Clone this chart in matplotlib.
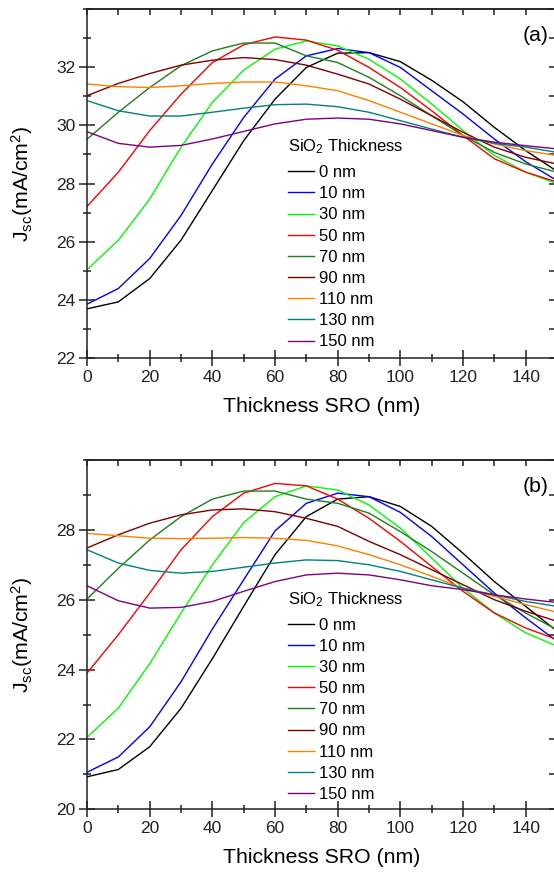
import matplotlib
matplotlib.use("Agg")
import matplotlib.pyplot as plt
from matplotlib.ticker import MultipleLocator

plt.rcParams['font.family'] = ['Liberation Sans', 'DejaVu Sans']
plt.rcParams['mathtext.fontset'] = 'custom'
plt.rcParams['mathtext.rm'] = 'Liberation Sans'
plt.rcParams['mathtext.it'] = 'Liberation Sans:italic'

# ---------------- data ----------------
x_sro = [0, 10, 20, 30, 40, 50, 60, 70, 80, 90, 100, 110, 120, 130, 140, 150]
series_labels = ['0 nm', '10 nm', '30 nm', '50 nm', '70 nm', '90 nm', '110 nm', '130 nm', '150 nm']
series_colors = ['#000000', '#0000ff', '#00ff00', '#ff0000', '#1e7f1e',
                 '#7f0000', '#ff8000', '#008080', '#800080']

# panel (a)
ja_0   = [23.69, 23.93, 24.73, 26.05, 27.76, 29.47, 30.90, 31.99, 32.48, 32.50, 32.19, 31.55, 30.81, 29.93, 29.13, 28.42]
ja_10  = [23.85, 24.39, 25.42, 26.90, 28.67, 30.27, 31.59, 32.39, 32.64, 32.50, 31.99, 31.19, 30.39, 29.53, 28.75, 28.10]
ja_30  = [25.04, 26.05, 27.47, 29.25, 30.79, 31.90, 32.62, 32.90, 32.73, 32.27, 31.59, 30.73, 29.82, 28.96, 28.39, 27.99]
ja_50  = [27.21, 28.39, 29.82, 31.07, 32.16, 32.77, 33.04, 32.93, 32.58, 31.99, 31.30, 30.50, 29.65, 28.85, 28.39, 28.05]
ja_70  = [29.52, 30.45, 31.30, 32.05, 32.56, 32.83, 32.83, 32.39, 32.16, 31.65, 31.02, 30.33, 29.65, 29.07, 28.67, 28.39]
ja_90  = [31.02, 31.44, 31.78, 32.07, 32.24, 32.33, 32.26, 32.07, 31.76, 31.42, 30.90, 30.33, 29.76, 29.25, 28.90, 28.67]
ja_110 = [31.42, 31.33, 31.30, 31.36, 31.44, 31.49, 31.49, 31.36, 31.19, 30.85, 30.45, 30.05, 29.65, 29.36, 29.13, 28.96]
ja_130 = [30.85, 30.50, 30.32, 30.32, 30.45, 30.59, 30.71, 30.73, 30.64, 30.45, 30.16, 29.87, 29.59, 29.38, 29.25, 29.07]
ja_150 = [29.78, 29.38, 29.25, 29.31, 29.53, 29.79, 30.05, 30.21, 30.25, 30.21, 30.05, 29.82, 29.59, 29.42, 29.30, 29.19]

# panel (b)
jb_0   = [20.93, 21.14, 21.79, 22.89, 24.31, 25.81, 27.29, 28.38, 28.88, 28.95, 28.67, 28.10, 27.33, 26.52, 25.81, 25.10]
jb_10  = [21.06, 21.50, 22.36, 23.65, 25.16, 26.57, 27.97, 28.76, 29.05, 28.95, 28.50, 27.81, 27.00, 26.19, 25.48, 24.81]
jb_30  = [22.06, 22.90, 24.17, 25.62, 27.00, 28.21, 28.95, 29.26, 29.14, 28.71, 28.05, 27.19, 26.33, 25.62, 25.05, 24.67]
jb_50  = [23.90, 25.00, 26.19, 27.43, 28.38, 29.05, 29.33, 29.26, 28.88, 28.33, 27.67, 26.95, 26.24, 25.62, 25.19, 24.86]
jb_70  = [26.02, 26.90, 27.71, 28.38, 28.88, 29.11, 29.11, 28.88, 28.76, 28.48, 27.95, 27.38, 26.76, 26.14, 25.62, 25.14]
jb_90  = [27.48, 27.86, 28.19, 28.43, 28.57, 28.60, 28.52, 28.33, 28.10, 27.67, 27.29, 26.86, 26.43, 26.00, 25.67, 25.38]
jb_110 = [27.90, 27.83, 27.76, 27.75, 27.76, 27.78, 27.76, 27.70, 27.54, 27.29, 27.00, 26.67, 26.33, 26.10, 25.86, 25.64]
jb_130 = [27.43, 27.05, 26.84, 26.76, 26.81, 26.93, 27.05, 27.14, 27.12, 27.00, 26.81, 26.57, 26.33, 26.14, 25.95, 25.81]
jb_150 = [26.40, 25.97, 25.76, 25.78, 25.95, 26.24, 26.52, 26.71, 26.76, 26.71, 26.57, 26.40, 26.29, 26.14, 26.02, 25.92]

panel_a = [ja_0, ja_10, ja_30, ja_50, ja_70, ja_90, ja_110, ja_130, ja_150]
panel_b = [jb_0, jb_10, jb_30, jb_50, jb_70, jb_90, jb_110, jb_130, jb_150]

xticks = [0, 20, 40, 60, 80, 100, 120, 140]
yticks_a = [22, 24, 26, 28, 30, 32]
yticks_b = [20, 22, 24, 26, 28]

xlabel_text = 'Thickness SRO (nm)'
ylabel_text = r'$\mathregular{J_{sc}}$(mA/cm$\mathregular{^2}$)'
legend_title = r'SiO$\mathregular{_2}$ Thickness'

# ---------------- figure ----------------
W, H = 554, 873
fig = plt.figure(figsize=(W / 100, H / 100), dpi=100)

def make_panel(rect_px, data, ylim, yticks, tag, leg_anchor):
    left, top, right, bottom = rect_px
    ax = fig.add_axes([left / W, 1 - bottom / H, (right - left) / W, (bottom - top) / H])
    for ys, lab, col in zip(data, series_labels, series_colors):
        ax.plot(x_sro, ys, color=col, lw=1.0, label=lab)
    ax.set_xlim(0, 150)
    ax.set_ylim(*ylim)
    ax.set_xticks(xticks)
    ax.set_yticks(yticks)
    ax.xaxis.set_minor_locator(MultipleLocator(10))
    ax.yaxis.set_minor_locator(MultipleLocator(1))
    ax.tick_params(which='major', direction='inout', length=11, width=1.1,
                   labelsize=12.5, pad=3, colors='#222222')
    ax.tick_params(which='minor', direction='inout', length=5.5, width=1.1, colors='#222222')
    for s in ax.spines.values():
        s.set_linewidth(1.1)
        s.set_color('#222222')
    # top / right inward ticks
    top_ax = ax.secondary_xaxis('top')
    top_ax.xaxis.set_major_locator(MultipleLocator(20))
    top_ax.xaxis.set_minor_locator(MultipleLocator(10))
    top_ax.tick_params(which='both', direction='in', length=4.5, width=1.1,
                       labeltop=False, colors='#222222')
    top_ax.spines['top'].set_linewidth(1.1)
    top_ax.spines['top'].set_color('#222222')
    right_ax = ax.secondary_yaxis('right')
    right_ax.yaxis.set_major_locator(MultipleLocator(2))
    right_ax.yaxis.set_minor_locator(MultipleLocator(1))
    right_ax.tick_params(which='both', direction='in', length=5.5, width=1.1,
                         labelright=False, colors='#222222')
    right_ax.spines['right'].set_linewidth(1.1)

    ax.set_xlabel(xlabel_text, fontsize=15.3)
    ax.set_ylabel(ylabel_text, fontsize=15.3)
    ax.xaxis.set_label_coords(0.5, -0.112)
    ax.yaxis.set_label_coords(-0.11, 0.5)
    ax.text(0.983, 0.925, tag, transform=ax.transAxes, ha='right', va='center', fontsize=15.3)
    leg = ax.legend(title=legend_title, loc='upper left', bbox_to_anchor=leg_anchor,
                    frameon=False, fontsize=12, title_fontsize=12,
                    handlelength=1.55, handletextpad=0.3, labelspacing=0.37,
                    borderpad=0, borderaxespad=0, alignment='left')
    leg._legend_box.sep = leg._legend_box.sep + 2.0
    return ax

make_panel((87, 9, 557, 358), panel_a, (22, 34), yticks_a, '(a)', (0.428, 0.632))
make_panel((87, 460, 557, 809.3), panel_b, (20, 30), yticks_b, '(b)', (0.428, 0.628))

fig.savefig('out.png', dpi=100)
